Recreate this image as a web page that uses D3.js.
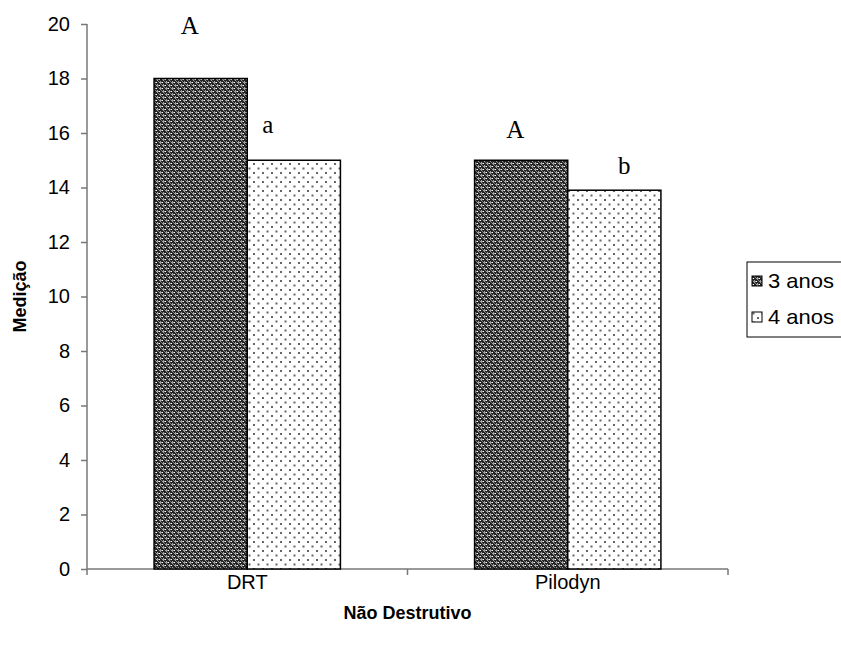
<!DOCTYPE html>
<html>
<head>
<meta charset="utf-8">
<script src="https://cdn.jsdelivr.net/npm/d3@7"></script>
<style>
  body { margin: 0; background: #fff; }
  svg { display: block; font-family: Arial, "Liberation Sans", sans-serif; }
</style>
</head>
<body>
<div id="chart"></div>
<script>
// data
var categories = ["DRT", "Pilodyn"];
var series = ["3 anos", "4 anos"];
var values3 = [18, 15];
var values4 = [15, 13.9];
var letters3 = ["A", "A"];
var letters4 = ["a", "b"];
var yTicks = [0, 2, 4, 6, 8, 10, 12, 14, 16, 18, 20];

// letters were hand placed in the original, nudge them (dx, dy above bar top)
var nudge3 = [[-11, 45], [-6, 22]];
var nudge4 = [[-26, 27], [10, 16]];

var width = 841, height = 653;
var svg = d3.select("#chart").append("svg")
  .attr("width", width).attr("height", height);

var defs = svg.append("defs");

// dark checkered pattern
var p1 = defs.append("pattern").attr("id", "pat3")
  .attr("patternUnits", "userSpaceOnUse").attr("width", 6).attr("height", 6);
p1.append("rect").attr("width", 6).attr("height", 6).attr("fill", "#262626");
p1.append("rect").attr("x", 0).attr("y", 1).attr("width", 3).attr("height", 1).attr("fill", "#a0a0a0");
p1.append("rect").attr("x", 3).attr("y", 4).attr("width", 3).attr("height", 1).attr("fill", "#a0a0a0");
p1.append("rect").attr("x", 1).attr("y", 0).attr("width", 1).attr("height", 3).attr("fill", "#a0a0a0");
p1.append("rect").attr("x", 4).attr("y", 3).attr("width", 1).attr("height", 3).attr("fill", "#a0a0a0");
p1.append("rect").attr("x", 3).attr("y", 1).attr("width", 1).attr("height", 1).attr("fill", "#fff");
p1.append("rect").attr("x", 0).attr("y", 4).attr("width", 1).attr("height", 1).attr("fill", "#fff");
p1.append("rect").attr("x", 2).attr("y", 3).attr("width", 1).attr("height", 1).attr("fill", "#777");
p1.append("rect").attr("x", 5).attr("y", 0).attr("width", 1).attr("height", 1).attr("fill", "#777");

// light dotted pattern
var p2 = defs.append("pattern").attr("id", "pat4")
  .attr("patternUnits", "userSpaceOnUse").attr("width", 9).attr("height", 9);
p2.append("rect").attr("width", 9).attr("height", 9).attr("fill", "#fff");
p2.append("rect").attr("x", 1).attr("y", 1).attr("width", 2).attr("height", 2).attr("fill", "#666");
p2.append("rect").attr("x", 5.5).attr("y", 5.5).attr("width", 2).attr("height", 2).attr("fill", "#666");

var fills = ["url(#pat3)", "url(#pat4)"];

var x0 = 87, x1 = 728, yTop = 24, yBot = 569;

var x = d3.scaleBand().domain(categories).range([x0, x1]);
var xs = d3.scaleBand().domain(series).range([0, x.bandwidth()]).paddingInner(0).paddingOuter(0.72);
var y = d3.scaleLinear().domain([0, 20]).range([yBot, yTop]);

// y axis
var yAxis = svg.append("g").attr("transform", "translate(" + x0 + ",0)")
  .call(d3.axisLeft(y).tickValues(yTicks).tickSize(6).tickPadding(11));
yAxis.selectAll("line, path").attr("stroke", "#777").attr("stroke-width", 1.5);
yAxis.select("path").attr("d", "M0," + yTop + "V" + yBot);
yAxis.selectAll("text").attr("font-size", 20).attr("fill", "#000")
  .attr("font-family", "Arial, 'Liberation Sans', sans-serif");

// x axis
var xAxis = svg.append("g").attr("transform", "translate(0," + yBot + ")");
xAxis.append("line").attr("x1", x0).attr("x2", x1).attr("y1", 0).attr("y2", 0)
  .attr("stroke", "#777").attr("stroke-width", 1.5);
var xTickPos = [x0].concat(categories.map(function (c) { return x(c) + x.bandwidth(); }));
xAxis.selectAll("line.tk").data(xTickPos).enter().append("line").attr("class", "tk")
  .attr("x1", function (d) { return d; }).attr("x2", function (d) { return d; })
  .attr("y1", 0).attr("y2", 6).attr("stroke", "#777").attr("stroke-width", 1.5);
xAxis.selectAll("text").data(categories).enter().append("text")
  .attr("x", function (d) { return x(d) + x.bandwidth() / 2; })
  .attr("y", 20).attr("text-anchor", "middle").attr("font-size", 20).text(function (d) { return d; });

// bars
var rows = [];
categories.forEach(function (c, i) {
  rows.push({ cat: c, s: series[0], v: values3[i], lab: letters3[i], n: nudge3[i], k: 0 });
  rows.push({ cat: c, s: series[1], v: values4[i], lab: letters4[i], n: nudge4[i], k: 1 });
});

svg.selectAll("rect.bar").data(rows).enter().append("rect").attr("class", "bar")
  .attr("x", function (d) { return x(d.cat) + xs(d.s); })
  .attr("y", function (d) { return y(d.v); })
  .attr("width", xs.bandwidth())
  .attr("height", function (d) { return y(0) - y(d.v); })
  .attr("fill", function (d) { return fills[d.k]; })
  .attr("stroke", "#000").attr("stroke-width", 1.5);

// significance letters
svg.selectAll("text.lab").data(rows).enter().append("text").attr("class", "lab")
  .attr("x", function (d) { return x(d.cat) + xs(d.s) + xs.bandwidth() / 2 + d.n[0]; })
  .attr("y", function (d) { return y(d.v) - d.n[1]; })
  .attr("text-anchor", "middle")
  .attr("font-family", "'Liberation Serif', 'Times New Roman', serif")
  .attr("font-size", 25)
  .text(function (d) { return d.lab; });

// axis titles
svg.append("text").attr("x", (x0 + x1) / 2).attr("y", 619).attr("text-anchor", "middle")
  .attr("font-size", 18).attr("font-weight", "bold").text("Não Destrutivo");
svg.append("text").attr("transform", "translate(26," + ((yTop + yBot) / 2) + ") rotate(-90)")
  .attr("text-anchor", "middle").attr("font-size", 18).attr("font-weight", "bold").text("Medição");

// legend
var lg = svg.append("g").attr("transform", "translate(747,262)");
lg.append("rect").attr("width", 100).attr("height", 75).attr("fill", "#fff")
  .attr("stroke", "#000").attr("stroke-width", 1);
series.forEach(function (s, i) {
  var ly = 19 + i * 36;
  lg.append("rect").attr("x", 5).attr("y", ly - 5).attr("width", 10).attr("height", 10)
    .attr("fill", fills[i]).attr("stroke", "#000").attr("stroke-width", 1);
  lg.append("text").attr("transform", "translate(21," + (ly + 7) + ") scale(1.1,1)")
    .attr("font-size", 20).text(s);
});
</script>
</body>
</html>
